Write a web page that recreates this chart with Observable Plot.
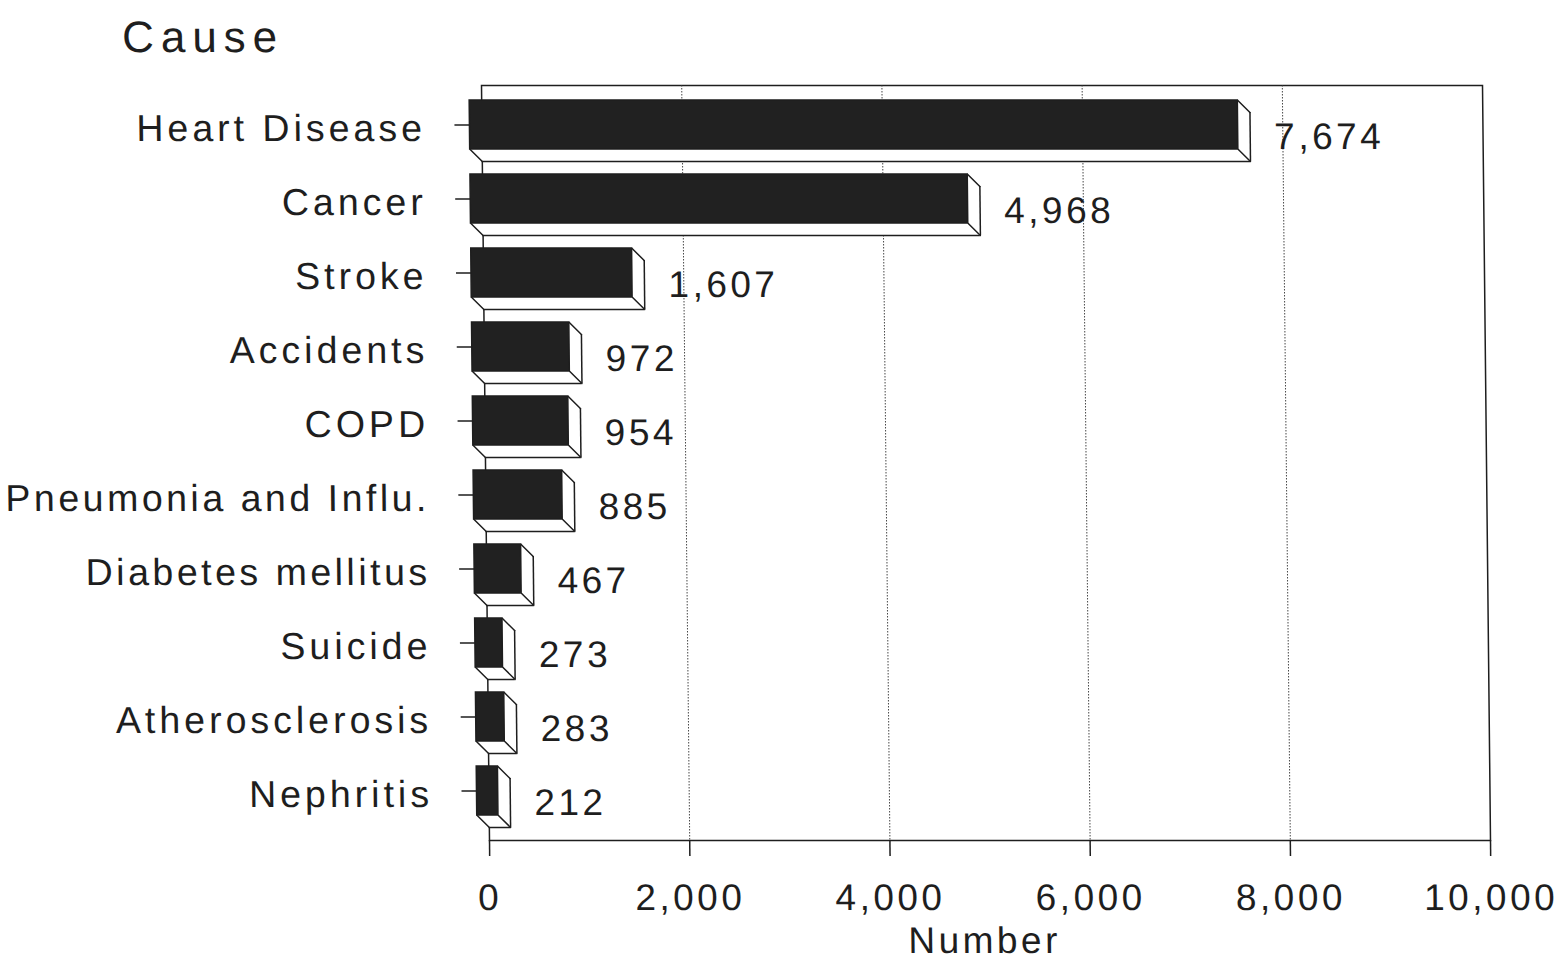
<!DOCTYPE html>
<html>
<head>
<meta charset="utf-8">
<script src="https://cdn.jsdelivr.net/npm/d3@7"></script>
<script src="https://cdn.jsdelivr.net/npm/@observablehq/plot@0.6"></script>
<style>
  html, body { margin: 0; padding: 0; background: #ffffff; }
  #chart svg { display: block; }
</style>
</head>
<body>
<div id="chart"></div>
<script>
// ---- data ----
const causes = ["Heart Disease", "Cancer", "Stroke", "Accidents", "COPD",
  "Pneumonia and Influ.", "Diabetes mellitus", "Suicide", "Atherosclerosis", "Nephritis"];
const counts = [7674, 4968, 1607, 972, 954, 885, 467, 273, 283, 212];
const xTicks = [0, 2000, 4000, 6000, 8000, 10000];
const gridTicks = [2000, 4000, 6000, 8000];
const titleText = "Cause";
const xLabel = "Number";

const data = causes.map((cause, i) => ({cause, count: counts[i]}));
const fmt = d3.format(",");

// ---- layout / style ----
const W = 1564, H = 962;
const ML = 489, MR = 74, MT = 85, MB = 122;
const yRange = [111, 827];
const padInner = 0.339;
const step = (yRange[1] - yRange[0]) / (causes.length - padInner);
const bw = step * (1 - padInner);
const D = 12;                       // depth of the 3D bars (px)
const L = D * Math.SQRT2;
const ink = "#1e1e1e";
const sw = 1.5;
const line = {draw(context, l) { context.moveTo(0, 0); context.lineTo(0, -l); }};

const plot = Plot.plot({
  width: W,
  height: H,
  marginLeft: ML,
  marginRight: MR,
  marginTop: MT,
  marginBottom: MB,
  style: {
    fontFamily: "'Liberation Sans', Arial, Helvetica, sans-serif",
    color: ink,
    background: "#ffffff",
    letterSpacing: "3.5px"
  },
  x: {domain: [0, 10000], range: [ML, W - MR]},
  y: {domain: causes, range: yRange, paddingInner: padInner, paddingOuter: 0},
  marks: [
    Plot.frame({stroke: ink, strokeWidth: sw}),
    Plot.gridX({ticks: gridTicks, stroke: "#333", strokeOpacity: 0.9, strokeWidth: 1, strokeDasharray: "1.5,1.5"}),
    // back / hidden volume of each bar (white faces)
    Plot.barX(data, {x: "count", y: "cause", fill: "#ffffff", insetLeft: -D}),
    // back right edge
    Plot.tickX(data, {x: "count", y: "cause", stroke: ink, strokeWidth: sw}),
    // back bottom edge
    Plot.ruleY(data, {y: "cause", x1: 0, x2: "count", dy: bw / 2, stroke: ink, strokeWidth: sw}),
    // depth diagonals
    Plot.vector(data, {x: "count", y: "cause", dy: -bw / 2, rotate: 135, length: L, anchor: "end", shape: line, stroke: ink, strokeWidth: sw}),
    Plot.vector(data, {x: "count", y: "cause", dy: bw / 2, rotate: 135, length: L, anchor: "end", shape: line, stroke: ink, strokeWidth: sw}),
    Plot.vector(data, {x: 0, y: "cause", dy: bw / 2, rotate: 135, length: L, anchor: "end", shape: line, stroke: ink, strokeWidth: sw}),
    // front face
    Plot.barX(data, {x: "count", y: "cause", fill: "#212121", stroke: ink, strokeWidth: sw, dx: -D, dy: -D}),
    // value labels
    Plot.text(data, {x: "count", y: "cause", text: d => fmt(d.count), dx: 24, textAnchor: "start", fontSize: 37, fill: ink}),
    // axes
    Plot.axisX({ticks: xTicks, tickSize: 16, tickPadding: 27, tickFormat: fmt, fontSize: 37, stroke: ink, strokeWidth: sw, label: null}),
    Plot.axisY({tickSize: 15, tickFormat: () => "", dx: -D, dy: -D, stroke: ink, strokeWidth: sw, label: null}),
    Plot.axisY({tickSize: 0, tickPadding: 44, dx: -D, dy: -D + 3.5, fontSize: 37.5, label: null}),
    // titles
    Plot.text([titleText], {frameAnchor: "top-left", dx: 130 - ML, dy: 37 - MT, textAnchor: "start", lineAnchor: "middle", fontSize: 44, fill: ink}),
    Plot.text([xLabel], {frameAnchor: "bottom", dx: -6.5, dy: 101, textAnchor: "middle", lineAnchor: "middle", fontSize: 37, fill: ink})
  ]
});

// per-text letter spacing (the original lettering is widely spaced)
plot.querySelectorAll("text").forEach(t => {
  const s = t.textContent;
  if (s === titleText) t.style.letterSpacing = "7px";
  else if (causes.includes(s)) t.style.letterSpacing = s.length > 15 ? "3.5px" : "4px";
});
// the original scan is slightly sheared
plot.style.transformOrigin = "0 840px";
plot.style.transform = "skewX(0.607deg)";
document.getElementById("chart").appendChild(plot);
</script>
</body>
</html>
